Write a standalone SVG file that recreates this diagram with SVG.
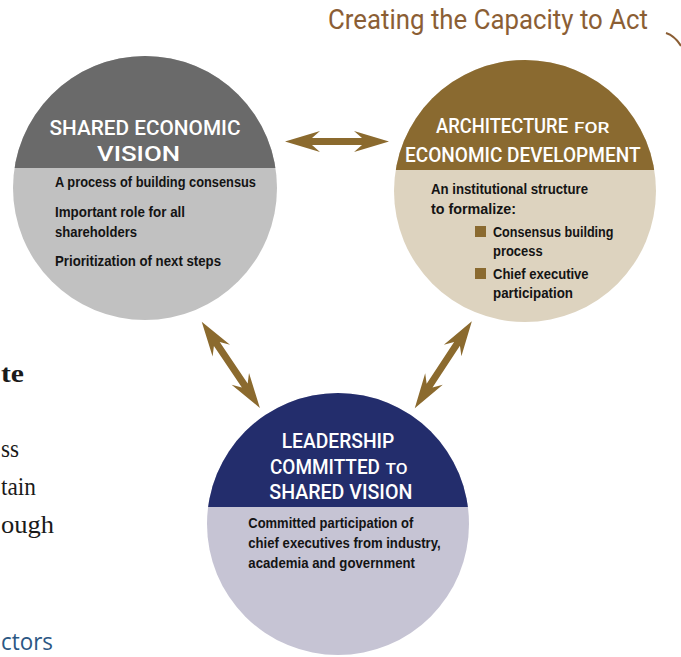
<svg xmlns="http://www.w3.org/2000/svg" xmlns:xlink="http://www.w3.org/1999/xlink" width="681" height="657" viewBox="0 0 681 657">
<style>
.ttl{font-family:Roboto,"Liberation Sans",Arial,sans-serif;font-weight:500;font-size:20.5px;fill:#ffffff;}
.sm{font-size:15.5px;}
.bd{font-family:"Liberation Sans",Arial,sans-serif;font-size:14px;font-weight:bold;fill:#141414;}
.page{font-family:"Liberation Serif","Times New Roman",serif;font-size:25px;fill:#1a1a1a;}
.arrow{fill:#8b6a2e;}
</style>
<defs>
<path id="dbl" d="M-52,0 L-17,-10.5 L-25,-3.5 L25,-3.5 L17,-10.5 L52,0 L17,10.5 L25,3.5 L-25,3.5 L-17,10.5 Z"/>
<clipPath id="cL"><circle cx="145" cy="188" r="132"/></clipPath>
<clipPath id="cR"><circle cx="525" cy="191" r="131"/></clipPath>
<clipPath id="cB"><circle cx="338" cy="524" r="131"/></clipPath>
</defs>
<rect width="681" height="657" fill="#ffffff"/>

<!-- page fragments -->
<g id="page-text">
<text x="328" y="29" textLength="320" lengthAdjust="spacingAndGlyphs" style="font-family:Roboto,'Liberation Sans',Arial,sans-serif;font-size:27px;fill:#8b5e34;">Creating the Capacity to Act</text>
<path d="M666,33 Q675,36 681,46" fill="none" stroke="#8b5e34" stroke-width="2"/>
<text x="1" y="382" class="page" textLength="23" lengthAdjust="spacingAndGlyphs" style="font-weight:bold;font-size:26px;">te</text>
<text x="1" y="457" class="page" textLength="18" lengthAdjust="spacingAndGlyphs">ss</text>
<text x="1" y="495" class="page" textLength="35" lengthAdjust="spacingAndGlyphs">tain</text>
<text x="1" y="533" class="page" textLength="53" lengthAdjust="spacingAndGlyphs">ough</text>
<text x="1" y="650" textLength="52" lengthAdjust="spacingAndGlyphs" style="font-family:'Open Sans','Liberation Sans',sans-serif;font-size:24px;fill:#2b5784;">ctors</text>
</g>

<!-- connectors -->
<g id="connectors" class="arrow">
<use xlink:href="#dbl" href="#dbl" transform="translate(337,141.5)"/>
<use xlink:href="#dbl" href="#dbl" transform="translate(230.8,364.8) rotate(56)"/>
<use xlink:href="#dbl" href="#dbl" transform="translate(443.3,364.8) rotate(-56.7)"/>
</g>

<!-- node: shared economic vision -->
<g id="node-shared-vision">
<g clip-path="url(#cL)">
<rect x="10" y="50" width="270" height="280" fill="#c1c1c1"/>
<rect x="10" y="50" width="270" height="118" fill="#6a6a6a"/>
</g>
<text class="ttl" x="145" y="135" text-anchor="middle" textLength="191" lengthAdjust="spacingAndGlyphs">SHARED ECONOMIC</text>
<text class="ttl" x="97" y="160.5" textLength="83" lengthAdjust="spacingAndGlyphs">VISION</text>
<text class="bd" x="55" y="187" textLength="201" lengthAdjust="spacingAndGlyphs">A process of building consensus</text>
<text class="bd" x="55" y="216.5" textLength="130" lengthAdjust="spacingAndGlyphs">Important role for all</text>
<text class="bd" x="55" y="237" textLength="82" lengthAdjust="spacingAndGlyphs">shareholders</text>
<text class="bd" x="55" y="266" textLength="166" lengthAdjust="spacingAndGlyphs">Prioritization of next steps</text>
</g>

<!-- node: architecture -->
<g id="node-architecture">
<g clip-path="url(#cR)">
<rect x="390" y="55" width="270" height="275" fill="#ddd3bf"/>
<rect x="390" y="55" width="270" height="115" fill="#8a6a30"/>
</g>
<text class="ttl" transform="translate(436,133.3) scale(0.85,1)" x="0" y="0" textLength="155.3" lengthAdjust="spacingAndGlyphs">ARCHITECTURE</text>
<text class="ttl sm" x="574" y="133.3" textLength="35.5" lengthAdjust="spacingAndGlyphs">FOR</text>
<text class="ttl" x="405" y="161.7" textLength="235.5" lengthAdjust="spacingAndGlyphs">ECONOMIC DEVELOPMENT</text>
<text class="bd" x="431" y="194" textLength="157" lengthAdjust="spacingAndGlyphs">An institutional structure</text>
<text class="bd" x="431" y="213.5" textLength="85" lengthAdjust="spacingAndGlyphs">to formalize:</text>
<rect x="475" y="226" width="11" height="11" fill="#8a6a30"/>
<text class="bd" x="493" y="236.5" textLength="120.5" lengthAdjust="spacingAndGlyphs">Consensus building</text>
<text class="bd" x="493" y="256" textLength="49.6" lengthAdjust="spacingAndGlyphs">process</text>
<rect x="475" y="268" width="11" height="11" fill="#8a6a30"/>
<text class="bd" x="493" y="278.5" textLength="95.6" lengthAdjust="spacingAndGlyphs">Chief executive</text>
<text class="bd" x="493" y="297.5" textLength="80" lengthAdjust="spacingAndGlyphs">participation</text>
</g>

<!-- node: leadership -->
<g id="node-leadership">
<g clip-path="url(#cB)">
<rect x="200" y="388" width="280" height="272" fill="#c6c4d4"/>
<rect x="200" y="388" width="280" height="119" fill="#232d6c"/>
</g>
<text class="ttl" x="281.7" y="448.3" textLength="112.6" lengthAdjust="spacingAndGlyphs">LEADERSHIP</text>
<text class="ttl" transform="translate(270,474) scale(0.85,1)" x="0" y="0" textLength="129.4" lengthAdjust="spacingAndGlyphs">COMMITTED</text>
<text class="ttl sm" x="385.5" y="474" textLength="22" lengthAdjust="spacingAndGlyphs">TO</text>
<text class="ttl" x="269.3" y="499.3" textLength="143" lengthAdjust="spacingAndGlyphs">SHARED VISION</text>
<text class="bd" x="248.3" y="528.3" textLength="165" lengthAdjust="spacingAndGlyphs">Committed participation of</text>
<text class="bd" x="248.3" y="548.3" textLength="192.4" lengthAdjust="spacingAndGlyphs">chief executives from industry,</text>
<text class="bd" x="248.3" y="568.3" textLength="166.7" lengthAdjust="spacingAndGlyphs">academia and government</text>
</g>
</svg>
